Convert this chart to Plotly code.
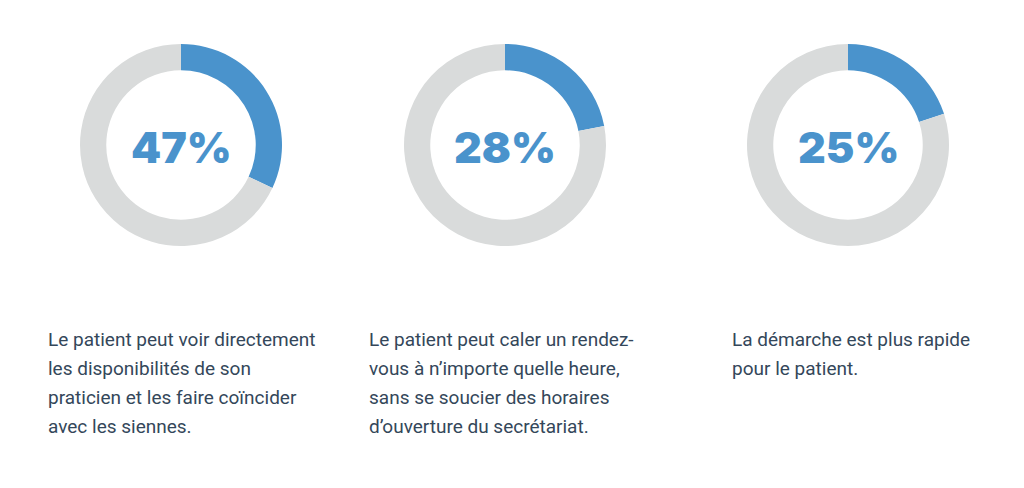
import plotly.graph_objects as go

# labels shown in the middle of each ring
labels = ["47%", "28%", "25%"]
# share of the ring painted blue, as drawn in the picture
arc_values = [32, 22, 20]
captions = [
    ["Le patient peut voir directement", "les disponibilités de son",
     "praticien et les faire coïncider", "avec les siennes."],
    ["Le patient peut caler un rendez-", "vous à n’importe quelle heure,",
     "sans se soucier des horaires", "d’ouverture du secrétariat."],
    ["La démarche est plus rapide", "pour le patient."],
]

W, H = 1024, 488
OFF = 8  # page body margin pushes the figure by this much
centers_x = [181 - OFF, 505 - OFF, 848 - OFF]
center_y = 145 - OFF
radius = 101
text_left = [46 - OFF, 367 - OFF, 730 - OFF]
line_y0 = 339 - OFF
line_step = 29.3

BLUE = "#4a93cc"
GREY = "#d9dbdb"
TEXT = "#34475a"

fig = go.Figure()
for i, cx in enumerate(centers_x):
    fig.add_trace(go.Pie(
        values=[arc_values[i], 100 - arc_values[i]],
        sort=False,
        direction="clockwise",
        rotation=0,
        hole=0.74,
        marker=dict(colors=[BLUE, GREY], line=dict(width=0)),
        textinfo="none",
        hoverinfo="skip",
        showlegend=False,
        domain=dict(x=[(cx - radius) / W, (cx + radius) / W],
                    y=[(H - center_y - radius) / H, (H - center_y + radius) / H]),
    ))
    fig.add_annotation(
        x=cx / W, y=1 - (center_y + 2) / H, xref="paper", yref="paper",
        text=labels[i], showarrow=False, xanchor="center", yanchor="middle",
        font=dict(family="Inter", size=43, color=BLUE, weight=900),
    )
    for j, line in enumerate(captions[i]):
        fig.add_annotation(
            x=text_left[i] / W, y=1 - (line_y0 + j * line_step) / H,
            xref="paper", yref="paper", text=line, showarrow=False,
            xanchor="left", yanchor="middle",
            font=dict(family="Roboto", size=19, color=TEXT),
        )

fig.update_layout(
    width=W, height=H,
    margin=dict(l=0, r=0, t=0, b=0),
    paper_bgcolor="white",
    plot_bgcolor="white",
)

fig.write_html("out.html")
